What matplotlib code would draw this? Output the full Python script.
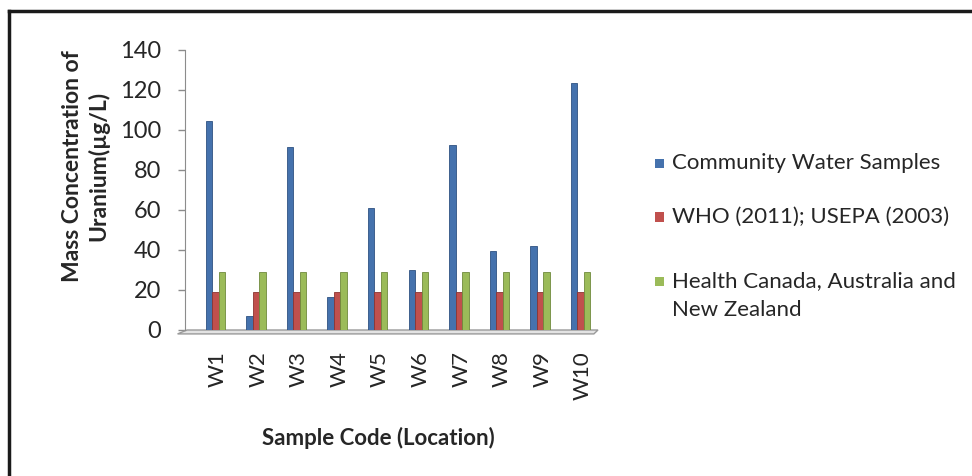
import matplotlib.pyplot as plt
import numpy as np
from matplotlib.lines import Line2D
from matplotlib.patches import Polygon, Rectangle

plt.rcParams["font.family"] = ["Lato", "DejaVu Sans"]

# Uranium concentration per sampling site (ug/L)
samples = ["W1", "W2", "W3", "W4", "W5", "W6", "W7", "W8", "W9", "W10"]
community = [104.5, 7, 91.5, 16.5, 61, 30, 92.5, 39.5, 42, 123.5]
who_usepa = [19] * 10
canada_aus_nz = [29] * 10

series_names = [
    "Community Water Samples",
    "WHO (2011); USEPA (2003)",
    "Health Canada, Australia and\nNew Zealand",
]
colors = ["#4572ad", "#c0504d", "#9bbb59"]
edges = ["#2f5282", "#8c3532", "#6f8a3c"]

W, H = 972, 476
fig = plt.figure(figsize=(W / 100, H / 100), dpi=100)
ax = fig.add_axes([185 / W, (H - 330) / H, (598 - 185) / W, 280 / H])

x = np.arange(len(samples))
bw = 0.16
for i, vals in enumerate([community, who_usepa, canada_aus_nz]):
    ax.bar(x + (i - 1) * bw + 0.12, vals, width=bw, color=colors[i],
           edgecolor=edges[i], linewidth=0.6, zorder=3)

ax.set_xlim(-0.63, 9.55)
ax.set_ylim(0, 140)
ax.set_yticks(range(0, 141, 20))
ax.set_xticks(x + 0.18)
ax.set_xticklabels(samples, rotation=90, fontsize=16, color="#262626")
ax.tick_params(axis="y", labelsize=17, labelcolor="#262626", color="#8c8c8c",
               length=5, width=1, pad=12)
ax.tick_params(axis="x", length=0, pad=15)

for s in ["top", "right", "bottom"]:
    ax.spines[s].set_visible(False)
ax.spines["left"].set_color("#8c8c8c")

# chart floor
floor = Polygon([(0.005, 0), (1.0, 0), (0.99, -0.014), (-0.018, -0.014)],
                closed=True, transform=ax.transAxes, facecolor="#e3e3e3",
                edgecolor="#9a9a9a", linewidth=1, clip_on=False, zorder=2)
ax.add_patch(floor)

fig.text(86 / W, 1 - 166 / H, "Mass Concentration of\nUranium(\u00b5g/L)",
         rotation=90, ha="center", va="center", fontsize=16.5,
         fontweight="bold", color="#262626", linespacing=1.25)
fig.text(378 / W, 1 - 438 / H, "Sample Code (Location)", ha="center",
         va="center", fontsize=16, fontweight="bold", color="#262626")

# legend: square key beside the first line of each entry
legend_rows = [163, 217, 281]
line_gap = 29
for name, c, yrow in zip(series_names, colors, legend_rows):
    fig.add_artist(Rectangle((655 / W, 1 - (yrow + 4.5) / H), 9 / W, 9 / H,
                             transform=fig.transFigure, facecolor=c,
                             edgecolor="none"))
    for k, line in enumerate(name.split("\n")):
        fig.text(672 / W, 1 - (yrow + 6 + k * line_gap) / H, line,
                 ha="left", va="baseline", fontsize=16, color="#262626")

# frame around the figure
fig.add_artist(Line2D([9 / W, 9 / W], [0, 1 - 11 / H], color="#1a1a1a", lw=2.5))
fig.add_artist(Line2D([9 / W, 1], [1 - 11 / H, 1 - 11 / H], color="#1a1a1a", lw=2.5))

fig.savefig("out.png", dpi=100)
